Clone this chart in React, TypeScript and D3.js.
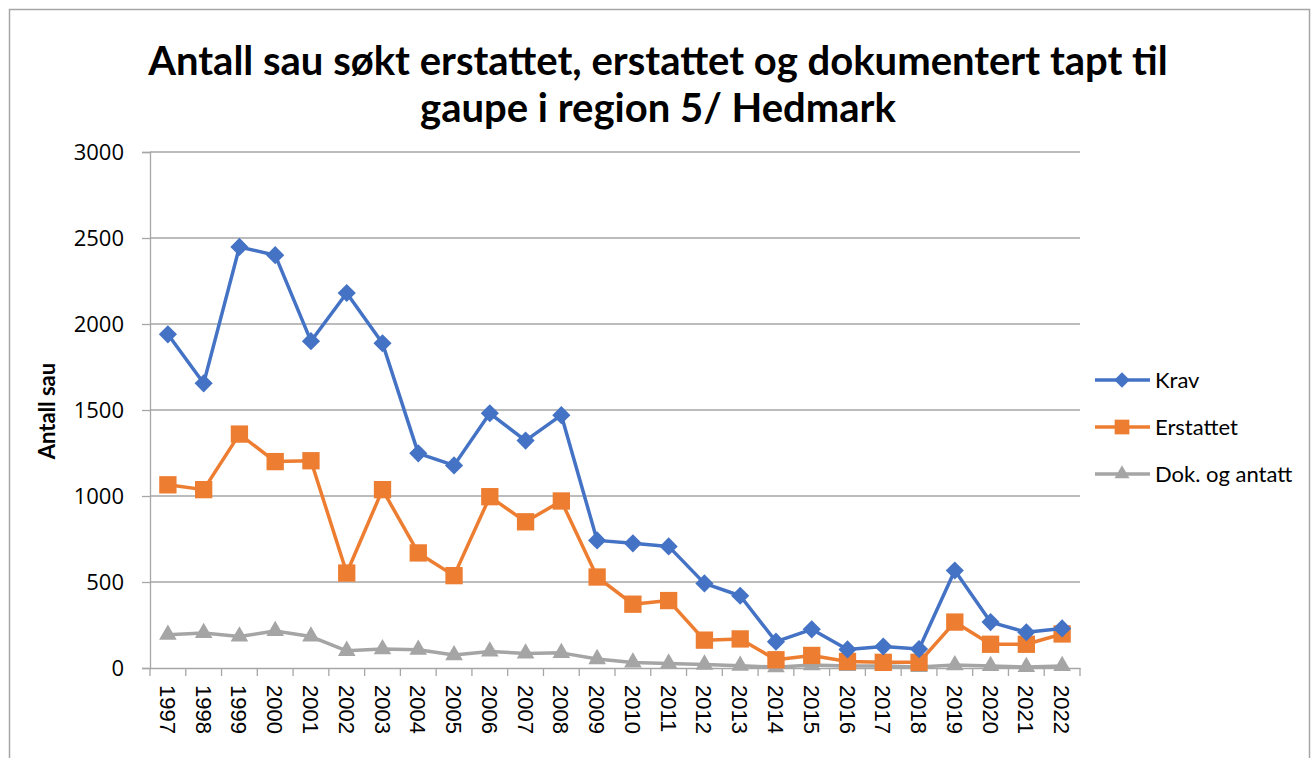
import React, { useEffect, useRef } from 'react';
import * as d3 from 'd3';

const years = ['1997', '1998', '1999', '2000', '2001', '2002', '2003', '2004', '2005', '2006', '2007', '2008', '2009',
  '2010', '2011', '2012', '2013', '2014', '2015', '2016', '2017', '2018', '2019', '2020', '2021', '2022'];

const krav = [1940, 1655, 2448, 2400, 1900, 2180, 1888, 1248, 1178, 1481, 1322, 1470, 742, 725, 707, 492, 420, 153,
  225, 108, 125, 110, 567, 267, 208, 230];
const erstattet = [1065, 1037, 1360, 1200, 1205, 552, 1037, 669, 537, 996, 850, 971, 529, 371, 392, 162, 169, 48,
  73, 38, 33, 33, 267, 138, 138, 198];
const dokumentert = [194, 204, 183, 215, 183, 100, 110, 106, 75, 96, 85, 88, 52, 32, 26, 20, 13, 5,
  17, 12, 12, 6, 17, 12, 6, 12];

const yTicks = [0, 500, 1000, 1500, 2000, 2500, 3000];
const titleLines = ['Antall sau søkt erstattet, erstattet og dokumentert tapt til', 'gaupe i region 5/ Hedmark'];

const series = [
  { name: 'Krav', values: krav, color: '#4472C4', marker: 'diamond' },
  { name: 'Erstattet', values: erstattet, color: '#ED7D31', marker: 'square' },
  { name: 'Dok. og antatt', values: dokumentert, color: '#A5A5A5', marker: 'triangle' },
];

const markerPath = (kind: string) => {
  if (kind === 'diamond') return d3.symbol(d3.symbolSquare, 165)();
  if (kind === 'square') return d3.symbol(d3.symbolSquare, 300)();
  return d3.symbol(d3.symbolTriangle, 135)();
};

export default function App() {
  const svgRef = useRef<SVGSVGElement | null>(null);

  useEffect(() => {
    if (!svgRef.current) return;
    const svg = d3.select(svgRef.current);
    svg.selectAll('*').remove();

    const width = 1314;
    const height = 758;
    const left = 150, right = 1080, top = 152, bottom = 668;
    const gridColor = '#A6A6A6';

    svg.attr('width', width).attr('height', height);

    svg.append('rect')
      .attr('x', 9.5).attr('y', 9.5)
      .attr('width', 1300).attr('height', 780)
      .attr('fill', '#fff')
      .attr('stroke', '#A6A6A6')
      .attr('stroke-width', 1.5);

    const x = d3.scaleBand().domain(years).range([left, right]).padding(0);
    const y = d3.scaleLinear().domain([0, 3000]).range([bottom, top]);

    // title
    svg.append('g')
      .selectAll('text')
      .data(titleLines)
      .join('text')
      .attr('x', 658)
      .attr('y', (_, i) => 75 + i * 47)
      .attr('text-anchor', 'middle')
      .attr('font-family', 'Lato, sans-serif')
      .attr('font-weight', 'bold')
      .attr('font-size', 40)
      .attr('fill', '#000')
      .text(d => d);

    // gridlines
    svg.append('g')
      .selectAll('line')
      .data(yTicks.filter(t => t > 0))
      .join('line')
      .attr('x1', left).attr('x2', right)
      .attr('y1', d => y(d)).attr('y2', d => y(d))
      .attr('stroke', gridColor)
      .attr('stroke-width', 1.3);

    // y axis
    const yAxis = svg.append('g')
      .attr('transform', `translate(${left},0)`)
      .call(d3.axisLeft(y).tickValues(yTicks).tickFormat(d3.format('d')).tickSize(8).tickPadding(18));
    yAxis.select('.domain').attr('stroke', gridColor).attr('stroke-width', 1.3);
    yAxis.selectAll('.tick line').attr('stroke', gridColor).attr('stroke-width', 1.3);
    yAxis.selectAll('.tick text')
      .attr('font-family', 'Open Sans, sans-serif')
      .attr('font-size', 22)
      .attr('fill', '#000');

    // x axis
    const xAxis = svg.append('g')
      .attr('transform', `translate(0,${bottom})`)
      .call(d3.axisBottom(x).tickSize(0).tickSizeOuter(0));
    xAxis.select('.domain').attr('stroke', gridColor).attr('stroke-width', 1.3);
    xAxis.selectAll('.tick text')
      .attr('font-family', 'Liberation Sans, Arial, sans-serif')
      .attr('font-size', 22)
      .attr('fill', '#000')
      .attr('text-anchor', 'start')
      .attr('dy', null)
      .attr('transform', 'translate(-8,17) rotate(90)')
      .attr('x', 0).attr('y', 0);

    // category ticks between bands
    svg.append('g')
      .selectAll('line')
      .data([...years.map(d => x(d) as number), right])
      .join('line')
      .attr('x1', d => d).attr('x2', d => d)
      .attr('y1', bottom).attr('y2', bottom + 8)
      .attr('stroke', gridColor)
      .attr('stroke-width', 1.3);

    // y axis title
    svg.append('text')
      .attr('transform', 'translate(55,411) rotate(-90)')
      .attr('text-anchor', 'middle')
      .attr('font-family', 'Lato, sans-serif')
      .attr('font-weight', 'bold')
      .attr('font-size', 22)
      .text('Antall sau');

    const cx = (i: number) => (x(years[i]) as number) + x.bandwidth() / 2;
    const line = d3.line<number>().x((_, i) => cx(i)).y(d => y(d));

    // draw back to front so Krav is on top
    [...series].reverse().forEach(s => {
      const g = svg.append('g');
      g.append('path')
        .datum(s.values)
        .attr('d', line)
        .attr('fill', 'none')
        .attr('stroke', s.color)
        .attr('stroke-width', 3.5)
        .attr('stroke-linejoin', 'round');
      g.selectAll('path.m')
        .data(s.values)
        .join('path')
        .attr('class', 'm')
        .attr('d', markerPath(s.marker))
        .attr('transform', (d, i) => `translate(${cx(i)},${y(d)})${s.marker === 'diamond' ? ' rotate(45)' : ''}`)
        .attr('fill', s.color);
    });

    // legend
    const legend = svg.append('g');
    series.forEach((s, i) => {
      const ly = 380 + i * 47;
      legend.append('line')
        .attr('x1', 1095).attr('x2', 1150)
        .attr('y1', ly).attr('y2', ly)
        .attr('stroke', s.color)
        .attr('stroke-width', 3.5);
      legend.append('path')
        .attr('d', markerPath(s.marker))
        .attr('transform', `translate(1122,${ly})${s.marker === 'diamond' ? ' rotate(45) scale(0.85)' : ' scale(0.85)'}`)
        .attr('fill', s.color);
      legend.append('text')
        .attr('x', 1155)
        .attr('y', ly)
        .attr('dy', '0.35em')
        .attr('font-family', 'Lato, sans-serif')
        .attr('font-size', 22)
        .text(s.name);
    });
  }, []);

  return (
    <div style={{ position: 'absolute', left: 0, top: 0 }}>
      <svg ref={svgRef}></svg>
    </div>
  );
}
